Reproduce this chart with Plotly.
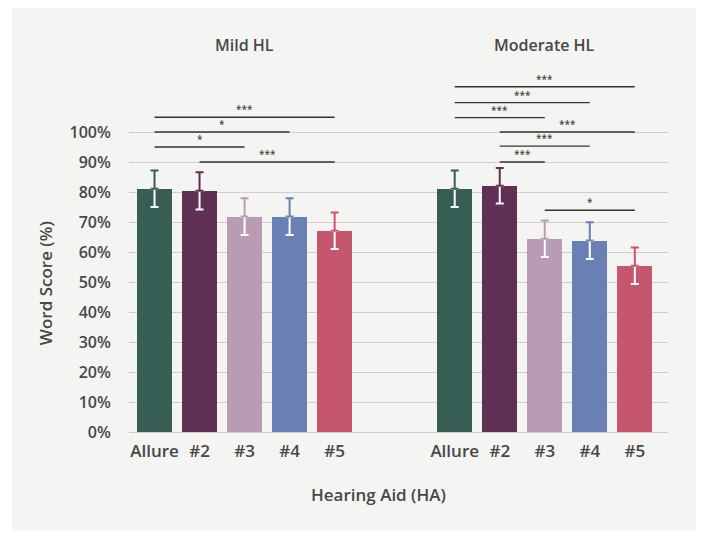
import plotly.graph_objects as go

# ---- data ----
aids = ["Allure", "#2", "#3", "#4", "#5"]
groups = ["Mild HL", "Moderate HL"]
mild_scores = [81.1, 80.4, 71.8, 71.8, 67.1]
mild_err = [6.1, 6.2, 6.1, 6.1, 6.1]
moderate_scores = [81.1, 82.1, 64.4, 63.8, 55.4]
moderate_err = [6.1, 5.9, 6.1, 6.1, 6.1]
colors = ["#365e55", "#5f2f54", "#ba9bb4", "#6a80b4", "#c6566e"]
ytick_vals = [0, 10, 20, 30, 40, 50, 60, 70, 80, 90, 100]
ytick_text = [f"{v}%" for v in ytick_vals]
# significance brackets: (from aid index, to aid index, level %, label)
mild_sig = [(0, 4, 104.9, "***"), (0, 3, 100.0, "*"), (0, 2, 95.0, "*"), (1, 4, 90.0, "***")]
moderate_sig = [(0, 4, 115.1, "***"), (0, 3, 109.8, "***"), (0, 2, 104.8, "***"),
                (1, 4, 100.0, "***"), (1, 3, 95.3, "***"), (1, 2, 90.0, "***"),
                (2, 4, 73.9, "*")]

# ---- layout geometry (page is offset by the 8px body margin) ----
OFF = 8
W, H = 704 - OFF, 544 - 2 * OFF
PL, PR = 129.0 - OFF, 667.7 - OFF      # plot area px (x)
PB, PT = 432.3 - OFF, 42.3 - OFF       # plot area px (y)
YMAX = 130
group_offset = [0.0, 6.667]
xmin, xmax = -0.567, 11.404

FONT = "Open Sans"
TXT = "#474747"

def px_x(p):
    return (p - OFF - PL) / (PR - PL)

def px_y(p):
    return (PB - (p - OFF)) / (PB - PT)

fig = go.Figure()

series = [(mild_scores, mild_err, mild_sig), (moderate_scores, moderate_err, moderate_sig)]
tickvals, ticktext = [], []
for g, (scores, errs, sigs) in enumerate(series):
    xs = [i + group_offset[g] for i in range(len(aids))]
    tickvals += xs
    ticktext += aids
    fig.add_trace(go.Bar(x=xs, y=scores, width=0.778, marker=dict(color=colors, line=dict(width=0)),
                         showlegend=False, hoverinfo="skip"))
    for i, (x, v, e) in enumerate(zip(xs, scores, errs)):
        # white lower half (inside the bar)
        fig.add_trace(go.Scatter(x=[x], y=[v], mode="markers", marker=dict(size=1, opacity=0),
                                 error_y=dict(type="data", symmetric=False, array=[0], arrayminus=[e],
                                              color="white", thickness=2, width=4),
                                 showlegend=False, hoverinfo="skip"))
        # coloured upper half
        fig.add_trace(go.Scatter(x=[x], y=[v], mode="markers", marker=dict(size=1, opacity=0),
                                 error_y=dict(type="data", symmetric=False, array=[e], arrayminus=[0],
                                              color=colors[i], thickness=2, width=4),
                                 showlegend=False, hoverinfo="skip"))
    for a, b, lvl, lab in sigs:
        x0, x1 = xs[a], xs[b]
        fig.add_shape(type="line", xref="x", yref="y", x0=x0, x1=x1, y0=lvl, y1=lvl,
                      line=dict(color="#333333", width=1.4))
        fig.add_annotation(x=(x0 + x1) / 2, y=lvl, xref="x", yref="y", text=lab, showarrow=False,
                           yshift=8, font=dict(family=FONT, size=10, color="#444444", weight=600))
    fig.add_annotation(x=xs[2], y=129.1, xref="x", yref="y", text=groups[g], showarrow=False,
                       xanchor="center", yanchor="middle",
                       font=dict(family=FONT, size=16, color=TXT, weight=600))

# background panel
fig.add_shape(type="rect", xref="paper", yref="paper", layer="below",
              x0=px_x(12), x1=px_x(712), y0=px_y(531), y1=px_y(8),
              fillcolor="#f4f4f2", line=dict(width=0))

fig.add_annotation(xref="paper", yref="paper", x=px_x(378.6), y=px_y(495), text="Hearing Aid (HA)",
                   xanchor="center", yanchor="middle", showarrow=False,
                   font=dict(family=FONT, size=17, color=TXT, weight=600))
fig.add_annotation(xref="paper", yref="paper", x=px_x(45.5), y=px_y(283), text="Word Score (%)",
                   xanchor="center", yanchor="middle", textangle=-90, showarrow=False,
                   font=dict(family=FONT, size=17, color=TXT, weight=600))

fig.update_layout(
    width=W, height=H,
    margin=dict(l=PL, r=W - PR, t=PT, b=H - PB, pad=0),
    paper_bgcolor="white", plot_bgcolor="rgba(0,0,0,0)",
    bargap=0, barmode="overlay",
    font=dict(family=FONT, color=TXT),
)
fig.update_xaxes(range=[xmin, xmax], tickvals=tickvals, ticktext=ticktext, showgrid=False,
                 zeroline=False, showline=False, ticks="outside", ticklen=4, tickcolor="rgba(0,0,0,0)",
                 tickfont=dict(family=FONT, size=17, color=TXT, weight=600))
fig.update_yaxes(range=[0, YMAX], tickvals=ytick_vals, ticktext=ytick_text, showgrid=True,
                 gridcolor="#d2cec7", gridwidth=1.2, zeroline=True, zerolinecolor="#d2cec7",
                 zerolinewidth=1.2, showline=False, ticks="outside", ticklen=14,
                 tickcolor="rgba(0,0,0,0)",
                 tickfont=dict(family=FONT, size=16, color=TXT, weight=600))

fig.write_html("out.html")
